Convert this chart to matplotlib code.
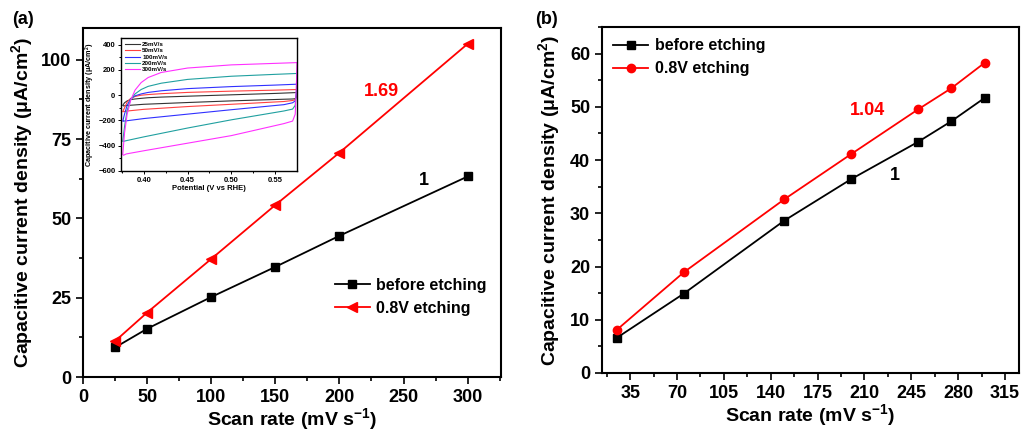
import matplotlib
matplotlib.use("Agg")
import matplotlib.pyplot as plt

plt.rcParams['font.family'] = ['Liberation Sans', 'DejaVu Sans']
plt.rcParams['font.weight'] = 'bold'
plt.rcParams['axes.labelweight'] = 'bold'
plt.rcParams['mathtext.default'] = 'regular'

# panel (a)
rate_a = [25, 50, 100, 150, 200, 300]
before_a = [9.3, 15.2, 25.2, 34.7, 44.5, 63.2]
etch_a = [11.3, 20.3, 37.2, 54.2, 70.7, 105.0]

# panel (b)
rate_b = [25, 75, 150, 200, 250, 275, 300]
before_b = [6.6, 14.9, 28.6, 36.4, 43.4, 47.3, 51.7]
etch_b = [8.1, 18.9, 32.6, 41.1, 49.5, 53.5, 58.3]

# inset CV loops: upper branch (left->right) then lower branch (right->left)
E_up = [0.376, 0.378, 0.381, 0.385, 0.390, 0.397, 0.405, 0.420, 0.450, 0.500, 0.550, 0.575]
E_dn = [0.575, 0.5745, 0.573, 0.570, 0.560, 0.500, 0.450, 0.400, 0.380, 0.377]
cv_labels = ['25mV/s', '50mV/s', '100mV/s', '200mV/s', '300mV/s']
cv_colors = ['#333333', '#ff4040', '#3030ff', '#20a0a0', '#ff30ff']
cv_up = [
    [-80, -60, -45, -35, -30, -25, -20, -15, -8, 3, 14, 21],
    [-130, -100, -55, -25, -10, 0, 5, 12, 22, 32, 40, 45],
    [-205, -150, -80, -30, -5, 10, 22, 35, 52, 68, 80, 87],
    [-365, -250, -120, -35, 10, 45, 70, 95, 125, 150, 165, 172],
    [-470, -300, -150, -40, 40, 100, 140, 180, 215, 240, 252, 258],
]
cv_dn = [
    [21, -10, -28, -30, -32, -45, -58, -72, -82, -85],
    [45, 0, -35, -42, -50, -72, -90, -112, -126, -130],
    [87, 20, -45, -60, -75, -115, -150, -185, -203, -205],
    [172, 50, -80, -110, -125, -195, -260, -330, -360, -365],
    [258, 120, -150, -205, -225, -320, -380, -440, -465, -475],
]

fig = plt.figure(figsize=(10.23, 4.32), dpi=100)

def style(ax, size=13):
    for s in ax.spines.values():
        s.set_linewidth(1.5)
    ax.tick_params(which='both', direction='out', top=False, right=False,
                   width=1.2, labelsize=size)
    ax.tick_params(which='major', length=5)
    ax.tick_params(which='minor', length=3)
    for lab in ax.get_xticklabels() + ax.get_yticklabels():
        lab.set_fontweight('bold')

# ---- (a)
ax1 = fig.add_axes([0.0811, 0.1273, 0.4086, 0.8079])
ax1.plot(rate_a, before_a, '-s', color='black', ms=6, lw=1.3, label='before etching')
ax1.plot(rate_a, etch_a, '-<', color='red', ms=7, lw=1.3, label='0.8V etching')
ax1.set_xlim(0, 326)
ax1.set_ylim(0, 110)
ax1.set_xticks(range(0, 301, 50))
ax1.set_xticks(range(25, 326, 50), minor=True)
ax1.set_yticks([0, 25, 50, 75, 100])
ax1.set_yticks([12.5, 37.5, 62.5, 87.5], minor=True)
ax1.set_xlabel('Scan rate (mV s$^{-1}$)', fontsize=14, labelpad=0)
ax1.set_ylabel('Capacitive current density ($\\mu$A/cm$^{2}$)', fontsize=14, labelpad=4)
style(ax1)
ax1.legend(loc='lower right', bbox_to_anchor=(1.0, 0.135), frameon=False,
           prop={'size': 11.5, 'weight': 'bold'}, handlelength=2.2, handletextpad=0.4)
ax1.text(233, 90, '1.69', color='red', fontsize=13, fontweight='bold', ha='center', va='center')
ax1.text(266, 62, '1', color='black', fontsize=13, fontweight='bold', ha='center', va='center')
fig.text(0.012, 0.955, '(a)', fontsize=13, fontweight='bold', va='center')

# ---- inset
axi = fig.add_axes([0.1183, 0.6042, 0.172, 0.3079])
for lab, col, up, dn in zip(cv_labels, cv_colors, cv_up, cv_dn):
    axi.plot(E_up + E_dn, up + dn, color=col, lw=0.8, label=lab)
axi.set_xlim(0.374, 0.575)
axi.set_ylim(-600, 453)
axi.set_xticks([0.40, 0.45, 0.50, 0.55])
axi.set_xticks([0.375, 0.425, 0.475, 0.525], minor=True)
axi.set_yticks(range(-600, 401, 200))
axi.set_yticks(range(-500, 401, 200), minor=True)
for s in axi.spines.values():
    s.set_linewidth(1.0)
axi.tick_params(which='both', direction='out', top=False, right=False, width=0.7, labelsize=5.5, pad=1.5)
axi.tick_params(which='major', length=2.5)
axi.tick_params(which='minor', length=1.5)
axi.set_xlabel('Potential (V vs RHE)', fontsize=5.5, labelpad=1)
axi.set_ylabel('Capacitive current density ($\\mu$A/cm$^{2}$)', fontsize=5.2, labelpad=1)
axi.legend(loc='upper left', frameon=False, prop={'size': 4.5, 'weight': 'bold'},
           handlelength=2.5, handletextpad=0.3, labelspacing=0.15, borderaxespad=0.2)

# ---- (b)
ax2 = fig.add_axes([0.5885, 0.1366, 0.4076, 0.801])
ax2.plot(rate_b, before_b, '-s', color='black', ms=5.5, lw=1.3, label='before etching')
ax2.plot(rate_b, etch_b, '-o', color='red', ms=6, lw=1.3, label='0.8V etching')
ax2.set_xlim(14, 325.5)
ax2.set_ylim(0, 65)
ax2.set_xticks(range(35, 316, 35))
ax2.set_xticks([17.5 + 35 * i for i in range(9)], minor=True)
ax2.set_yticks(range(0, 61, 10))
ax2.set_yticks(range(5, 66, 10), minor=True)
ax2.set_xlabel('Scan rate (mV s$^{-1}$)', fontsize=14, labelpad=0)
ax2.set_ylabel('Capacitive current density ($\\mu$A/cm$^{2}$)', fontsize=14, labelpad=6)
style(ax2)
ax2.legend(loc='upper left', frameon=False, prop={'size': 11.5, 'weight': 'bold'},
           handlelength=2.2, handletextpad=0.4, borderaxespad=0.3)
ax2.text(212, 49.4, '1.04', color='red', fontsize=13, fontweight='bold', ha='center', va='center')
ax2.text(233, 37.1, '1', color='black', fontsize=13, fontweight='bold', ha='center', va='center')
fig.text(0.523, 0.955, '(b)', fontsize=13, fontweight='bold', va='center')

fig.savefig('out.png', dpi=100)
